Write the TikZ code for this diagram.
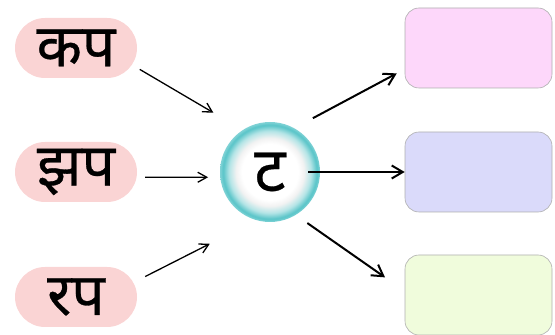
\documentclass[tikz,border=0pt]{standalone}
\usepackage{fontspec}
\newfontfamily\deva[Script=Devanagari,FakeBold=0.5]{Noto Sans}
\usepackage{tikz}
\usetikzlibrary{arrows.meta,positioning}
\definecolor{SyllPink}{RGB}{250,212,212}
\definecolor{OutPink}{RGB}{253,215,250}
\definecolor{OutBlue}{RGB}{218,218,250}
\definecolor{OutGreen}{RGB}{240,252,220}
\definecolor{OutLine}{RGB}{175,175,175}
\definecolor{RingTeal}{RGB}{88,196,200}
\pgfdeclareradialshading{ringshade}{\pgfpoint{0bp}{0bp}}{%
  color(0bp)=(white); color(14bp)=(white); color(17bp)=(black!5);
  color(20.5bp)=(RingTeal!45); color(23.5bp)=(RingTeal); color(25bp)=(RingTeal!75);
  color(50bp)=(RingTeal!75)}

\begin{document}
\begin{tikzpicture}[
    x=1pt,y=1pt,
    syll/.style={
      fill=SyllPink,rounded corners=30pt,minimum width=122pt,
      minimum height=60pt,inner sep=0pt,font=\deva\fontsize{59}{64}\selectfont
    },
    slot/.style={
      draw=OutLine,line width=0.6pt,rounded corners=14pt,
      minimum width=147pt,minimum height=80pt
    },
    inarr/.style={-{Straight Barb[length=9pt,width=10pt]},line width=1.3pt},
    outarr/.style={-{Straight Barb[length=11pt,width=13pt]},line width=2pt}]
  \useasboundingbox (0,0) rectangle (555,335);
  \node[syll] (kapa) at (76,287) {कप};
  \node[syll] (jhapa) at (76,163) {झप};
  \node[syll] (rapa) at (76,38) {रप};
  \node[circle,minimum size=100pt,inner sep=0pt,shading=ringshade,
    font=\deva\fontsize{62}{66}\selectfont] (ta) at (270,163) {ट};
  \node[slot,fill=OutPink] (outa) at (478.5,287) {};
  \node[slot,fill=OutBlue] (outb) at (478.5,163) {};
  \node[slot,fill=OutGreen] (outc) at (478.5,40) {};
  % syllables into the letter
  \draw[inarr,shorten <=3pt,shorten >=34pt] (kapa.-18) -- (ta.123);
  \draw[inarr,shorten <=8pt,shorten >=12pt] (jhapa.-5) -- (ta.186);
  \draw[inarr,shorten <=9pt,shorten >=52pt] (rapa.15) -- (ta.254);
  % letter out to the empty boxes
  \draw[outarr,shorten <=21pt,shorten >=9pt] (ta.61) -- (outa.196);
  \draw[outarr,shorten <=38pt] (ta.center) -- (outb.west);
  \draw[outarr,shorten <=14pt,shorten >=24pt] (ta.-59) -- (outc.177);
\end{tikzpicture}
\end{document}
